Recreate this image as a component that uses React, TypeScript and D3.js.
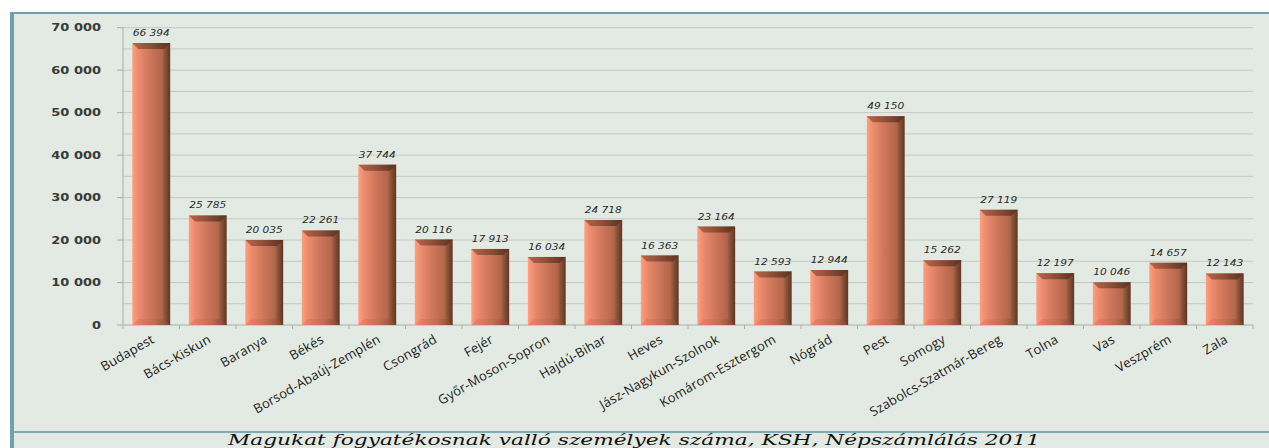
import React from "react";
import * as d3 from "d3";

const categories = [
  "Budapest", "Bács-Kiskun", "Baranya", "Békés", "Borsod-Abaúj-Zemplén",
  "Csongrád", "Fejér", "Győr-Moson-Sopron", "Hajdú-Bihar", "Heves",
  "Jász-Nagykun-Szolnok", "Komárom-Esztergom", "Nógrád", "Pest", "Somogy",
  "Szabolcs-Szatmár-Bereg", "Tolna", "Vas", "Veszprém", "Zala",
];
const values = [
  66394, 25785, 20035, 22261, 37744, 20116, 17913, 16034, 24718, 16363,
  23164, 12593, 12944, 49150, 15262, 27119, 12197, 10046, 14657, 12143,
];
const yTicks = [0, 10000, 20000, 30000, 40000, 50000, 60000, 70000];
const gridValues = d3.range(5000, 70001, 5000);
const title = "Magukat fogyatékosnak valló személyek száma, KSH, Népszámlálás 2011";

const W = 1269;
const H = 448;
const left = 123;
const right = 1253;
const top = 27.7;
const bottom = 325;

const fmt = (v: number) => d3.format(",")(v).replace(/,/g, " ");

export default function App() {
  const x = d3.scaleBand<string>().domain(categories).range([left, right]).paddingInner(0.33).paddingOuter(0.165);
  const y = d3.scaleLinear().domain([0, 70000]).range([bottom, top]);
  const bw = x.bandwidth();
  const step = x.step();
  const bev = 6;

  return (
    <div style={{ position: "fixed", left: 0, top: 0 }}>
      <svg width={W} height={H} style={{ display: "block" }}>
        <defs>
          <linearGradient id="barG" x1="0" x2="1" y1="0" y2="0">
            <stop offset="0%" stopColor="#ff9f80" />
            <stop offset="14%" stopColor="#ef8d6f" />
            <stop offset="45%" stopColor="#cf775c" />
            <stop offset="78%" stopColor="#b3664a" />
            <stop offset="86%" stopColor="#8a5339" />
            <stop offset="100%" stopColor="#5e3623" />
          </linearGradient>
          <linearGradient id="topG" x1="0" x2="1" y1="0" y2="0">
            <stop offset="0%" stopColor="#b8664c" />
            <stop offset="50%" stopColor="#8a4d36" />
            <stop offset="100%" stopColor="#5a3222" />
          </linearGradient>
          <linearGradient id="botG" x1="0" x2="1" y1="0" y2="0">
            <stop offset="0%" stopColor="#f0836a" />
            <stop offset="60%" stopColor="#c06a50" />
            <stop offset="100%" stopColor="#7a4530" />
          </linearGradient>
        </defs>
        <rect x={0} y={0} width={W} height={H} fill="#ffffff" />
        <rect x={14} y={14} width={W - 14} height={H - 14} fill="#e3eae3" />
        <rect x={10} y={12} width={W - 10} height={2} fill="#6fa0b0" />
        <rect x={10} y={12} width={4} height={H - 12} fill="#6fa0b0" />
        <rect x={14} y={431} width={W - 14} height={2} fill="#7eaab8" />

        {gridValues.map((v) => (
          <line key={v} x1={left} x2={right} y1={y(v)} y2={y(v)} stroke="#c3cac3" strokeWidth={1} />
        ))}
        <line x1={left} x2={left} y1={top} y2={bottom} stroke="#a8aea8" strokeWidth={1} />
        <line x1={left} x2={right} y1={bottom} y2={bottom} stroke="#a8aea8" strokeWidth={1} />
        {yTicks.map((v) => (
          <g key={v}>
            <line x1={left - 6} x2={left} y1={y(v)} y2={y(v)} stroke="#a8aea8" />
            <text
              transform={`translate(101,${y(v)}) scale(1.3,1)`}
              dy="0.35em"
              textAnchor="end"
              fontFamily="DejaVu Sans"
              fontWeight="bold"
              fontSize={10}
              fill="#3a3a3a"
            >
              {fmt(v)}
            </text>
          </g>
        ))}
        {d3.range(categories.length + 1).map((i) => (
          <line key={i} x1={left + i * step} x2={left + i * step} y1={bottom} y2={bottom + 4} stroke="#a8aea8" />
        ))}

        {categories.map((c, i) => {
          const bx = x(c)!;
          const by = y(values[i]);
          const bh = bottom - by;
          return (
            <g key={c}>
              <rect x={bx} y={by} width={bw} height={bh} fill="url(#barG)" />
              <polygon
                points={`${bx},${by} ${bx + bw},${by} ${bx + bw - bev},${by + bev} ${bx + bev},${by + bev}`}
                fill="url(#topG)"
              />
              <polygon
                points={`${bx + bev},${bottom - bev} ${bx + bw - bev},${bottom - bev} ${bx + bw},${bottom} ${bx},${bottom}`}
                fill="url(#botG)"
                opacity={0.85}
              />
              <text
                transform={`translate(${bx + bw / 2},${by - 7}) scale(1.25,1)`}
                textAnchor="middle"
                fontFamily="DejaVu Sans"
                fontStyle="italic"
                fontSize={8.5}
                fill="#2a2a2a"
              >
                {fmt(values[i])}
              </text>
              <text
                transform={`translate(${bx + bw / 2 + 4},${bottom + 17}) rotate(-30)`}
                textAnchor="end"
                fontFamily="Open Sans"
                fontSize={13}
                letterSpacing={0.2}
                fill="#1a1a1a"
              >
                {c}
              </text>
            </g>
          );
        })}

        <text
          x={634}
          y={445}
          textAnchor="middle"
          fontFamily="DejaVu Serif"
          fontStyle="italic"
          fontSize={15}
          textLength={812}
          lengthAdjust="spacingAndGlyphs"
          fill="#111"
        >
          {title}
        </text>
      </svg>
    </div>
  );
}
